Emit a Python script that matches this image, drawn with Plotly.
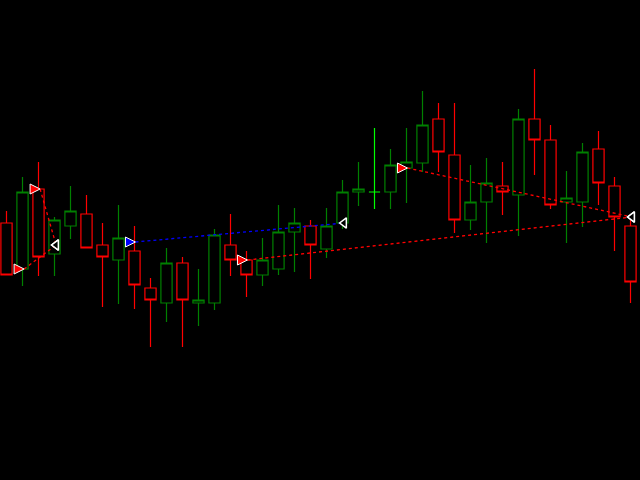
import plotly.graph_objects as go

# OHLC values (price units)
opens  = [257, 211, 291, 226, 254, 266, 235, 220, 229, 192, 177, 217, 177, 177, 235, 220, 205, 211, 248, 254,
          231, 257, 288, 288, 288, 312, 317, 361, 325, 260, 278, 294, 285, 361, 340, 278, 278, 331, 294, 254]
highs  = [269, 303, 318, 263, 294, 285, 257, 275, 254, 202, 232, 223, 211, 251, 266, 229, 242, 275, 272, 260,
          272, 300, 318, 352, 331, 352, 389, 377, 377, 315, 322, 318, 371, 411, 355, 309, 337, 349, 303, 261]
lows   = [205, 194, 204, 204, 241, 232, 173, 176, 171, 133, 158, 133, 154, 170, 204, 183, 194, 205, 208, 201,
          222, 251, 274, 271, 271, 277, 308, 308, 247, 250, 237, 265, 244, 305, 271, 237, 253, 275, 229, 177]
closes = [205, 288, 223, 260, 269, 232, 223, 242, 195, 180, 217, 180, 180, 245, 220, 205, 220, 248, 257, 235,
          254, 288, 291, 288, 315, 318, 355, 328, 260, 278, 297, 288, 361, 340, 275, 282, 328, 297, 263, 198]

# signal arrows (entries) and triangle exits, as [x index, price]
sig_red_a = ([1.1, 3.1], [211, 235])
sig_red_b = ([2.1, 3.1], [291, 235])
sig_blue  = ([8.06, 21.1], [238, 257])
sig_red_c = ([15.06, 39.1], [220, 263])
sig_red_d = ([25.06, 39.1], [312, 263])

n = len(opens)
xs = list(range(n))
DOJI = [i for i in range(n) if opens[i] == closes[i]]
main_idx = [i for i in range(n) if i not in DOJI]

fig = go.Figure()
fig.add_trace(go.Candlestick(
    x=[xs[i] for i in main_idx],
    open=[opens[i] for i in main_idx], high=[highs[i] for i in main_idx],
    low=[lows[i] for i in main_idx], close=[closes[i] for i in main_idx],
    increasing=dict(line=dict(color="#008000", width=1.2), fillcolor="#000000"),
    decreasing=dict(line=dict(color="#ff0000", width=1.2), fillcolor="#000000"),
    whiskerwidth=0, hoverinfo="skip"))
fig.add_trace(go.Candlestick(
    x=[xs[i] for i in DOJI],
    open=[opens[i] for i in DOJI], high=[highs[i] for i in DOJI],
    low=[lows[i] for i in DOJI], close=[closes[i] for i in DOJI],
    increasing=dict(line=dict(color="#00ff00", width=1.2), fillcolor="#000000"),
    decreasing=dict(line=dict(color="#00ff00", width=1.2), fillcolor="#000000"),
    whiskerwidth=0, hoverinfo="skip"))

signals = [(sig_red_a, "#ff0000"), (sig_red_b, "#ff0000"), (sig_blue, "#0000ff"),
           (sig_red_c, "#ff0000"), (sig_red_d, "#ff0000")]
for (sx, sy), col in signals:
    fig.add_trace(go.Scatter(x=sx, y=sy, mode="lines",
                             line=dict(color=col, width=1.3, dash="3px,3px"), hoverinfo="skip"))
for (sx, sy), col in signals:
    fig.add_trace(go.Scatter(x=[sx[0]], y=[sy[0]], mode="markers",
                             marker=dict(symbol="arrow-right", size=10, color=col,
                                         line=dict(color="#ffffff", width=1)), hoverinfo="skip"))
    fig.add_trace(go.Scatter(x=[sx[1]], y=[sy[1]], mode="markers",
                             marker=dict(symbol="triangle-left", size=9, color="#000000",
                                         line=dict(color="#ffffff", width=1.5)), hoverinfo="skip"))

fig.update_layout(
    width=640, height=480, margin=dict(l=0, r=0, t=0, b=0),
    paper_bgcolor="#000000", plot_bgcolor="#000000", showlegend=False,
    boxgap=0.3, boxgroupgap=0,
    xaxis=dict(range=[-0.40625, 39.59375], visible=False, rangeslider=dict(visible=False)),
    yaxis=dict(range=[0, 480], visible=False),
)
fig.write_html("out.html", config={"displayModeBar": False},
               post_script="document.body.style.margin='0';document.body.style.background='#000';")
